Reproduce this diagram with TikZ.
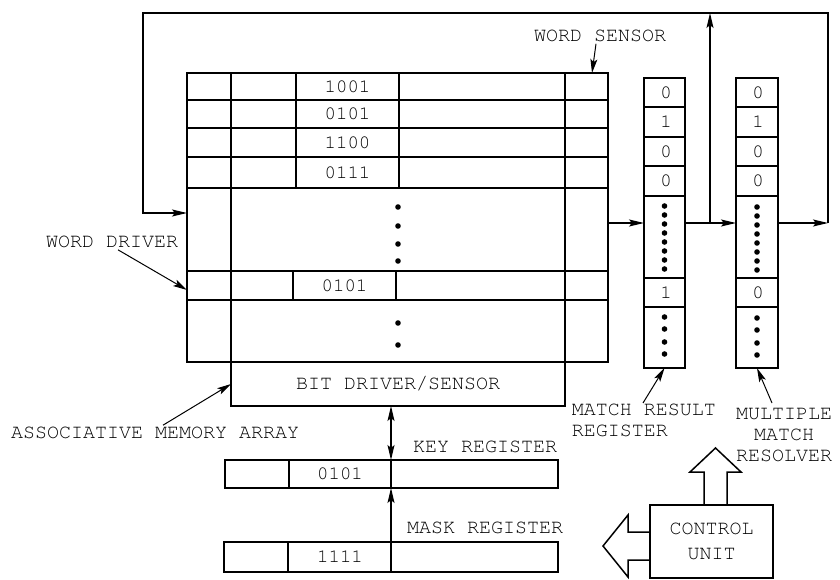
\documentclass[tikz,border=0pt]{standalone}
\usetikzlibrary{arrows.meta, positioning, calc}
\newcommand{\courierfont}{\fontencoding{OT1}\fontfamily{pcr}\selectfont}

\begin{document}
\begin{tikzpicture}[x=1pt, y=-1pt, line width=1.5pt,
  lbl/.style={font=\courierfont\fontsize{20}{21}\selectfont, inner sep=1pt},
  bit/.style={font=\courierfont\fontsize{19}{20}\selectfont, inner sep=0pt},
  box/.style={draw, rectangle, inner sep=0pt, outer sep=0pt},
  arr/.style={-{Stealth[length=15pt,width=7pt,inset=3pt]}},
  thinarr/.style={-{Stealth[length=14pt,width=7pt,inset=3pt]}, line width=1pt},
  dblarr/.style={{Stealth[length=15pt,width=7pt,inset=3pt]}-{Stealth[length=15pt,width=7pt,inset=3pt]}}]
  \useasboundingbox (0,0) rectangle (840,580);

  \node[box, minimum width=421pt, minimum height=289pt, anchor=north west] (cam) at (187,73) {};
  \foreach \y in {100,128,157,188,271,300} \draw (187,\y) -- (608,\y);
  \draw (231,73) -- (231,362);
  \draw (565,73) -- (565,362);
  \draw (296,73) -- (296,188);
  \draw (399,73) -- (399,188);
  \draw (293,271) -- (293,300);
  \draw (396,271) -- (396,300);
  \foreach \y/\w [count=\i] in {86.5/1001,114/0101,142.5/1100,172.5/0111}
    \node[bit] (w\i) at (347.5,\y) {\w};
  \node[bit] (wk) at (344.5,285.5) {0101};
  \foreach \y in {207,226,244,261,323,345} \fill (398,\y) circle (2.8pt);

  \node[lbl, box, minimum width=334pt, minimum height=44pt, anchor=north west] (bds) at (231,362) {BIT DRIVER/SENSOR};

  \node[box, minimum width=41pt, minimum height=290pt, anchor=north west] (mrr) at (644,78) {};
  \foreach \y in {107,137,166,196,278,307} \draw (644,\y) -- (685,\y);
  \foreach \y/\b [count=\i] in {92.5/0,122/1,151.5/0,181/0,292.5/1}
    \node[bit] (mr\i) at (666,\y) {\b};
  \foreach \y in {206,215,224,233,242,251,260,269,317,329,342,354} \fill (664.5,\y) circle (2.8pt);

  \node[box, minimum width=42pt, minimum height=290pt, anchor=north west] (mmr) at (736,78) {};
  \foreach \y in {107,137,166,196,278,307} \draw (736,\y) -- (778,\y);
  \foreach \y/\b [count=\i] in {92.5/0,122/1,151.5/0,181/0,292.5/0}
    \node[bit] (mm\i) at (758,\y) {\b};
  \foreach \y in {207,216,225,234,243,252,261,270,318,330,343,355} \fill (757,\y) circle (2.8pt);

  \node[box, minimum width=333pt, minimum height=28pt, anchor=north west] (kreg) at (225,460) {};
  \draw (289,460) -- (289,488);
  \node[bit] (kv) at (340,474) {0101};
  \node[box, minimum width=334pt, minimum height=30pt, anchor=north west] (mreg) at (224,542) {};
  \draw (288,542) -- (288,572);
  \node[bit] (mv) at (340,557) {1111};

  \coordinate (bus) at (391,0);
  \draw[dblarr] (bds.south -| bus) -- (kreg.north -| bus);
  \draw (kreg.north -| bus) -- (kreg.south -| bus);
  \draw[arr] (mreg.south -| bus) -- (kreg.south -| bus);

  \node[lbl] (krl) at (485,447) {KEY REGISTER};
  \node[lbl] (mkl) at (485,528) {MASK REGISTER};

  \draw[arr] (mrr.west -| cam.east) -- (mrr.west);
  \draw[arr] (mrr.east) -- (mmr.west);
  \coordinate (tap) at (710,223);
  \coordinate (fb1) at (828,223);
  \coordinate (fb2) at (828,13);
  \coordinate (fb3) at (143,13);
  \coordinate (fb4) at (143,213);
  \draw[arr] (tap) -- (tap |- fb2);
  \draw[arr] (mmr.east) -- (fb1);
  \draw[arr] (fb1) -- (fb2) -- (fb3) -- (fb4) -- (fb4 -| cam.west);

  \node[lbl] (wsl) at (600,36) {WORD SENSOR};
  \coordinate (wsp) at (592,73);
  \draw[thinarr] ([xshift=-4pt]wsl.south) -- (wsp);
  \node[lbl] (wdl) at (112,242) {WORD DRIVER};
  \coordinate (wdp) at (187,290);
  \draw[thinarr] ([xshift=6pt]wdl.south) -- (wdp);
  \node[lbl] (aml) at (155,433) {ASSOCIATIVE MEMORY ARRAY};
  \draw[thinarr] ([xshift=8pt]aml.north) -- (bds.west);
  \node[lbl, align=left, anchor=north west] (mrl) at (570,402) {MATCH RESULT\\REGISTER};
  \coordinate (mrt) at (643,403);
  \draw[thinarr] (mrt) -- (mrr.south);
  \node[lbl, align=center] (mml) at (784,435) {MULTIPLE\\MATCH\\RESOLVER};
  \coordinate (mmt) at (772,403);
  \draw[thinarr] (mmt) -- (mmr.south);

  \node[lbl, box, align=center, minimum width=123pt, minimum height=73pt] (cu) at (711.5,541.5) {CONTROL\\[4pt]UNIT};
  \draw (704,505) -- (704,472) -- (690,472) -- (715.5,448) -- (741,472) -- (727,472) -- (727,505);
  \draw (650,532) -- (628,532) -- (628,515) -- (603,546) -- (628,577) -- (628,560) -- (650,560);
\end{tikzpicture}
\end{document}
